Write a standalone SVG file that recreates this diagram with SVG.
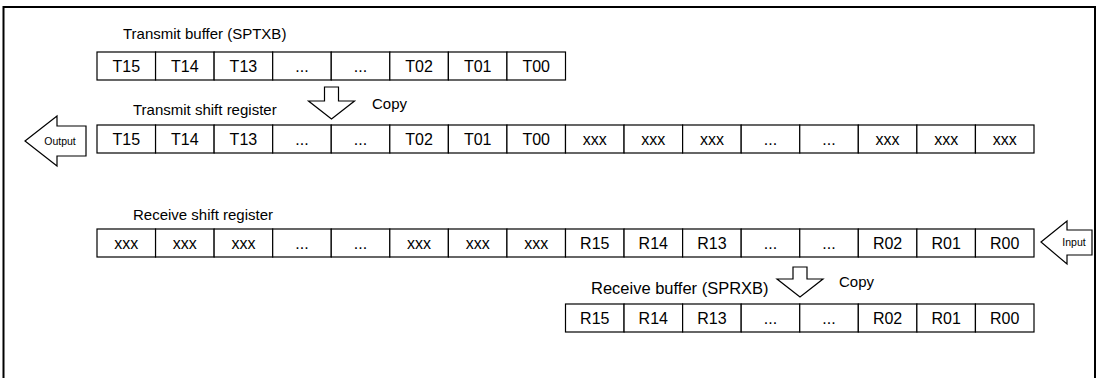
<svg xmlns="http://www.w3.org/2000/svg" width="1100" height="378" viewBox="0 0 1100 378">
<style>
.cell{fill:#fff;stroke:#000;stroke-width:1.2}
.ct{font-family:"Liberation Sans",Arial,sans-serif;font-size:16px;fill:#000;text-anchor:middle}
.lb{font-family:"Liberation Sans",Arial,sans-serif;font-size:15px;fill:#000}
.ar{fill:#fff;stroke:#000;stroke-width:1.2;stroke-linejoin:miter}
.at{font-family:"Liberation Sans",Arial,sans-serif;font-size:10.5px;fill:#000;text-anchor:middle}
</style>
<rect x="0" y="0" width="1100" height="378" fill="#fff"/>
<rect id="frame" x="3.5" y="7" width="1091.5" height="390" fill="none" stroke="#000" stroke-width="2"/>
<g id="tx-buffer">
<text class="lb" x="123" y="39">Transmit buffer (SPTXB)</text>
<rect class="cell" x="97" y="52" width="58.56" height="28"/><text class="ct" x="126.3" y="72">T15</text>
<rect class="cell" x="155.56" y="52" width="58.56" height="28"/><text class="ct" x="184.8" y="72">T14</text>
<rect class="cell" x="214.12" y="52" width="58.56" height="28"/><text class="ct" x="243.4" y="72">T13</text>
<rect class="cell" x="272.69" y="52" width="58.56" height="28"/><text class="ct" x="302" y="72">...</text>
<rect class="cell" x="331.25" y="52" width="58.56" height="28"/><text class="ct" x="360.5" y="72">...</text>
<rect class="cell" x="389.81" y="52" width="58.56" height="28"/><text class="ct" x="419.1" y="72">T02</text>
<rect class="cell" x="448.37" y="52" width="58.56" height="28"/><text class="ct" x="477.7" y="72">T01</text>
<rect class="cell" x="506.94" y="52" width="58.56" height="28"/><text class="ct" x="536.2" y="72">T00</text>
</g>
<g id="tx-shift">
<text class="lb" x="133" y="115">Transmit shift register</text>
<rect class="cell" x="97" y="125" width="58.56" height="28"/><text class="ct" x="126.3" y="145">T15</text>
<rect class="cell" x="155.56" y="125" width="58.56" height="28"/><text class="ct" x="184.8" y="145">T14</text>
<rect class="cell" x="214.12" y="125" width="58.56" height="28"/><text class="ct" x="243.4" y="145">T13</text>
<rect class="cell" x="272.69" y="125" width="58.56" height="28"/><text class="ct" x="302" y="145">...</text>
<rect class="cell" x="331.25" y="125" width="58.56" height="28"/><text class="ct" x="360.5" y="145">...</text>
<rect class="cell" x="389.81" y="125" width="58.56" height="28"/><text class="ct" x="419.1" y="145">T02</text>
<rect class="cell" x="448.37" y="125" width="58.56" height="28"/><text class="ct" x="477.7" y="145">T01</text>
<rect class="cell" x="506.94" y="125" width="58.56" height="28"/><text class="ct" x="536.2" y="145">T00</text>
<rect class="cell" x="565.5" y="125" width="58.56" height="28"/><text class="ct" x="594.8" y="145">xxx</text>
<rect class="cell" x="624.06" y="125" width="58.56" height="28"/><text class="ct" x="653.3" y="145">xxx</text>
<rect class="cell" x="682.62" y="125" width="58.56" height="28"/><text class="ct" x="711.9" y="145">xxx</text>
<rect class="cell" x="741.19" y="125" width="58.56" height="28"/><text class="ct" x="770.5" y="145">...</text>
<rect class="cell" x="799.75" y="125" width="58.56" height="28"/><text class="ct" x="829" y="145">...</text>
<rect class="cell" x="858.31" y="125" width="58.56" height="28"/><text class="ct" x="887.6" y="145">xxx</text>
<rect class="cell" x="916.87" y="125" width="58.56" height="28"/><text class="ct" x="946.2" y="145">xxx</text>
<rect class="cell" x="975.44" y="125" width="58.56" height="28"/><text class="ct" x="1004.7" y="145">xxx</text>
</g>
<g id="rx-shift">
<text class="lb" x="133" y="220">Receive shift register</text>
<rect class="cell" x="97" y="229" width="58.56" height="28"/><text class="ct" x="126.3" y="249">xxx</text>
<rect class="cell" x="155.56" y="229" width="58.56" height="28"/><text class="ct" x="184.8" y="249">xxx</text>
<rect class="cell" x="214.12" y="229" width="58.56" height="28"/><text class="ct" x="243.4" y="249">xxx</text>
<rect class="cell" x="272.69" y="229" width="58.56" height="28"/><text class="ct" x="302" y="249">...</text>
<rect class="cell" x="331.25" y="229" width="58.56" height="28"/><text class="ct" x="360.5" y="249">...</text>
<rect class="cell" x="389.81" y="229" width="58.56" height="28"/><text class="ct" x="419.1" y="249">xxx</text>
<rect class="cell" x="448.37" y="229" width="58.56" height="28"/><text class="ct" x="477.7" y="249">xxx</text>
<rect class="cell" x="506.94" y="229" width="58.56" height="28"/><text class="ct" x="536.2" y="249">xxx</text>
<rect class="cell" x="565.5" y="229" width="58.56" height="28"/><text class="ct" x="594.8" y="249">R15</text>
<rect class="cell" x="624.06" y="229" width="58.56" height="28"/><text class="ct" x="653.3" y="249">R14</text>
<rect class="cell" x="682.62" y="229" width="58.56" height="28"/><text class="ct" x="711.9" y="249">R13</text>
<rect class="cell" x="741.19" y="229" width="58.56" height="28"/><text class="ct" x="770.5" y="249">...</text>
<rect class="cell" x="799.75" y="229" width="58.56" height="28"/><text class="ct" x="829" y="249">...</text>
<rect class="cell" x="858.31" y="229" width="58.56" height="28"/><text class="ct" x="887.6" y="249">R02</text>
<rect class="cell" x="916.87" y="229" width="58.56" height="28"/><text class="ct" x="946.2" y="249">R01</text>
<rect class="cell" x="975.44" y="229" width="58.56" height="28"/><text class="ct" x="1004.7" y="249">R00</text>
</g>
<g id="rx-buffer">
<text class="lb" x="591" y="294" style="font-size:16.5px">Receive buffer (SPRXB)</text>
<rect class="cell" x="565.5" y="304" width="58.56" height="28"/><text class="ct" x="594.8" y="324">R15</text>
<rect class="cell" x="624.06" y="304" width="58.56" height="28"/><text class="ct" x="653.3" y="324">R14</text>
<rect class="cell" x="682.62" y="304" width="58.56" height="28"/><text class="ct" x="711.9" y="324">R13</text>
<rect class="cell" x="741.19" y="304" width="58.56" height="28"/><text class="ct" x="770.5" y="324">...</text>
<rect class="cell" x="799.75" y="304" width="58.56" height="28"/><text class="ct" x="829" y="324">...</text>
<rect class="cell" x="858.31" y="304" width="58.56" height="28"/><text class="ct" x="887.6" y="324">R02</text>
<rect class="cell" x="916.87" y="304" width="58.56" height="28"/><text class="ct" x="946.2" y="324">R01</text>
<rect class="cell" x="975.44" y="304" width="58.56" height="28"/><text class="ct" x="1004.7" y="324">R00</text>
</g>
<g id="connectors">
<g id="copy-tx">
<polygon class="ar" points="324.5,87 338.5,87 338.5,101 354.5,101 331.5,119 308.5,101 324.5,101"/>
<text class="lb" x="372" y="109">Copy</text>
</g>
<g id="copy-rx">
<polygon class="ar" points="793,267 807,267 807,279 823,279 800,297 777,279 793,279"/>
<text class="lb" x="839" y="287">Copy</text>
</g>
<g id="output">
<polygon class="ar" points="25,141 57,116 57,126 86,126 86,156 57,156 57,166"/>
<text class="at" x="60" y="145">Output</text>
</g>
<g id="input">
<polygon class="ar" points="1041,242 1067,221 1067,230 1092,230 1092,255 1067,255 1067,264"/>
<text class="at" x="1074" y="246">Input</text>
</g>
</g>
</svg>
